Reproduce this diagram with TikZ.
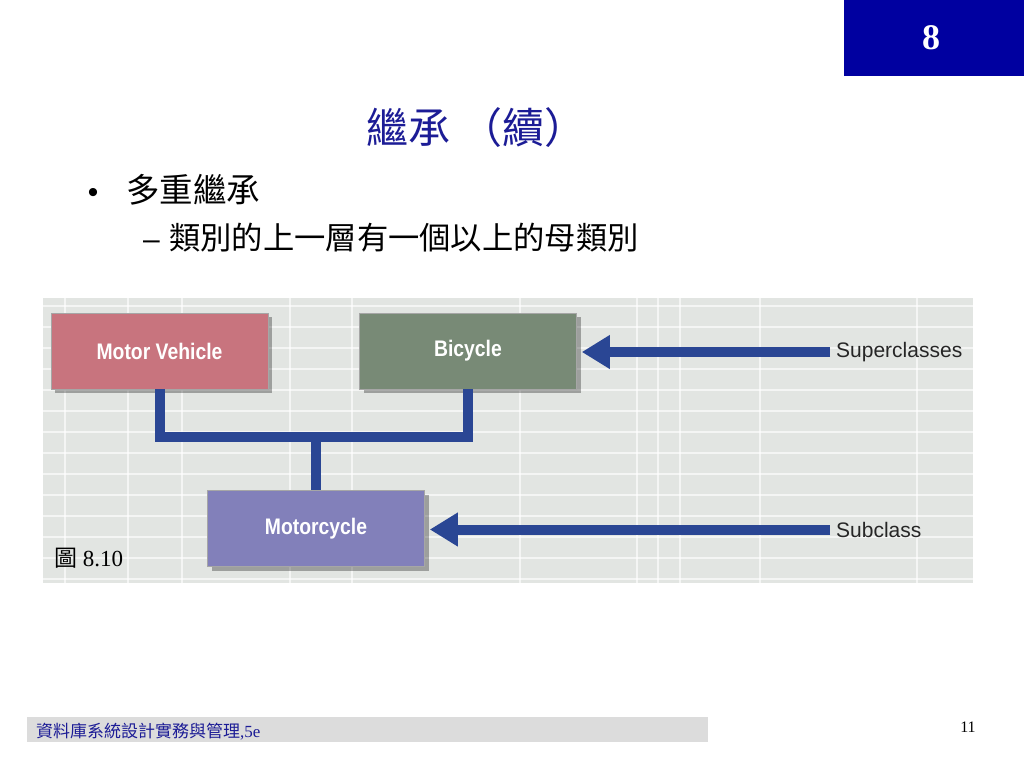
\documentclass[tikz,border=0pt]{standalone}
\usepackage{fontspec}
\setmainfont{Liberation Serif}
\newfontfamily\cjk{Noto Sans CJK TC}
\newfontfamily\labelfont[FakeStretch=0.86]{Liberation Sans}
\newfontfamily\tagfont{Liberation Sans}
\usetikzlibrary{arrows.meta,shadows}
\definecolor{slideblue}{RGB}{0,0,160}
\definecolor{titleblue}{RGB}{28,28,150}
\definecolor{linkblue}{RGB}{42,70,148}
\definecolor{mvred}{RGB}{200,116,126}
\definecolor{bcgreen}{RGB}{120,138,118}
\definecolor{mcpurple}{RGB}{130,128,186}
\definecolor{diagbg}{RGB}{226,229,226}
\definecolor{footgray}{RGB}{220,220,220}
\tikzset{
    classbox/.style={draw=black!35,line width=0.6pt,minimum width=217pt,minimum height=76pt,inner sep=0pt,
        text=white,font=\labelfont\bfseries\fontsize{22.5}{26}\selectfont,
        drop shadow={shadow xshift=4pt,shadow yshift=-4pt,opacity=0.3,fill=black}},
    boxred/.style={classbox,fill=mvred},
    boxgreen/.style={classbox,fill=bcgreen},
    boxpurple/.style={classbox,fill=mcpurple},
    tag/.style={inner sep=6pt,font=\tagfont\fontsize{21}{24}\selectfont,text=black!85},
    link/.style={draw=linkblue,line width=10pt,line join=miter},
    pointer/.style={draw=linkblue,line width=10pt,-{Triangle[length=28pt,width=32pt]}},
    gridline/.style={draw=white,line width=1.5pt,opacity=0.65},
}
\begin{document}
\begin{tikzpicture}[x=1pt,y=-1pt]
    \useasboundingbox[fill=white] (0,0) rectangle (1024,768);

    % chapter tab and title
    \fill[slideblue] (844,0) rectangle (1024,76);
    \node[text=white,font=\bfseries\fontsize{36}{40}\selectfont] (chap) at (931,38) {8};
    \node[text=titleblue,font=\cjk\fontsize{42}{48}\selectfont] (title) at (476,128) {繼承\hspace{10pt}（續）};

    % bullets
    \node[anchor=west,font=\cjk\fontsize{33.5}{38}\selectfont,inner sep=0pt] (item) at (126,190) {多重繼承};
    \node[anchor=base,font=\tagfont\fontsize{30}{34}\selectfont] (dot) at ([xshift=-33pt]item.base west) {•};
    \node[anchor=west,font=\cjk\fontsize{31.3}{38}\selectfont,inner sep=0pt] (subitem) at (169,238) {類別的上一層有一個以上的母類別};
    \node[anchor=base,font=\tagfont\fontsize{30}{34}\selectfont] (dash) at ([xshift=-17.5pt]subitem.base west) {–};

    % figure background with grid
    \fill[diagbg] (43,298) rectangle (973,583);
    \foreach \y in {306,327,...,580} \draw[gridline] (43,\y) -- (973,\y);
    \foreach \x in {65,128,182,290,352,520,637,658,680,760,917} \draw[gridline] (\x,298) -- (\x,583);

    \node[boxred] (mv) at (159.5,351) {Motor Vehicle};
    \node[boxgreen] (bc) at (468,351) {Bicycle};
    \node[boxpurple] (mc) at (316,528.5) {Motorcycle};

    \draw[link] (mv.south) -- ++(0,48) coordinate (joint) -| (bc.south);
    \draw[link] (mc.north) -- (mc.north |- joint);

    \node[tag,anchor=west] (super) at (830,352) {Superclasses};
    \node[tag,anchor=west] (sub) at (830,529.5) {Subclass};
    \draw[pointer] (super.west) -- ([xshift=5pt]bc.east |- super.west);
    \draw[pointer] (sub.west) -- ([xshift=5pt]mc.east |- sub.west);

    \node[anchor=west,font=\fontsize{23}{26}\selectfont,inner sep=0pt] (fig) at (54,558) {{\cjk 圖} 8.10};

    % footer
    \fill[footgray] (27,717) rectangle (708,742);
    \node[anchor=west,text=titleblue,font=\fontsize{17}{20}\selectfont,inner sep=0pt] (foot) at (36,732) {{\cjk 資料庫系統設計實務與管理}{,5e}};
    \node[font=\fontsize{16}{18}\selectfont] (page) at (968,727) {11};
\end{tikzpicture}
\end{document}
